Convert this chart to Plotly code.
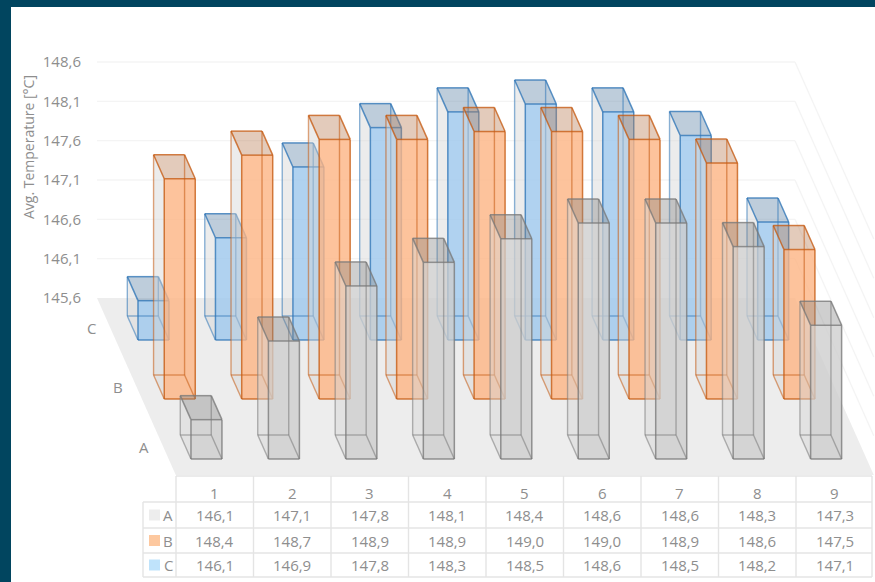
import plotly.graph_objects as go

# Average temperature per position (1-9) for each of the three series
positions = ["1", "2", "3", "4", "5", "6", "7", "8", "9"]
series_a = [146.1, 147.1, 147.8, 148.1, 148.4, 148.6, 148.6, 148.3, 147.3]
series_b = [148.4, 148.7, 148.9, 148.9, 149.0, 149.0, 148.9, 148.6, 147.5]
series_c = [146.1, 146.9, 147.8, 148.3, 148.5, 148.6, 148.5, 148.2, 147.1]
axis_ticks = [145.6, 146.1, 146.6, 147.1, 147.6, 148.1, 148.6]

W, H = 875, 582
BASE = 145.6
PX_PER_DEG = (298 - 62) / 3.0       # vertical scale of the value axis
SHEAR = 0.445                       # sideways drift per pixel of depth
WALL_X0, WALL_X1 = 97, 795
SLOT0_X, SLOT_PITCH, BAR_W = 119.3, 77.46, 31
FLOOR_DEPTH = 177
TEXT = "#8e8e8e"
FONT = "Open Sans"
GRID = "#f4f4f4"
TABLE_LINE = "#e4e4e4"

# depth of each series' back face, drawn rear to front
SERIES = [
    dict(name="C", values=series_c, depth=18, front="rgba(156,199,236,0.80)",
         top="rgba(100,135,170,0.42)", edge="46,117,182", key="#bfe3fb"),
    dict(name="B", values=series_b, depth=77, front="rgba(252,180,131,0.80)",
         top="rgba(185,125,85,0.40)", edge="197,90,17", key="#fdc89f"),
    dict(name="A", values=series_a, depth=137, front="rgba(205,205,205,0.78)",
         top="rgba(135,135,135,0.40)", edge="120,120,120", key="#ededed"),
]
BAR_DEPTH = 24


def deg(depth):
    """Depth in front of the back wall, expressed on the value axis."""
    return depth / PX_PER_DEG


def pt(x_back, depth, value):
    return x_back + depth * SHEAR, value - deg(depth)


def py(px):
    return 1 - px / H


fig = go.Figure()


def poly(points, color):
    fig.add_trace(go.Scatter(
        x=[p[0] for p in points] + [points[0][0]],
        y=[p[1] for p in points] + [points[0][1]],
        mode="none", fill="toself", fillcolor=color,
        hoverinfo="skip", showlegend=False))


def edges(segments, color, width):
    xs, ys = [], []
    for a, b in segments:
        xs += [a[0], b[0], None]
        ys += [a[1], b[1], None]
    fig.add_trace(go.Scatter(
        x=xs, y=ys, mode="lines", line=dict(color=color, width=width),
        hoverinfo="skip", showlegend=False))


# floor
poly([pt(WALL_X0, 0, BASE), pt(WALL_X1, 0, BASE),
      pt(WALL_X1, FLOOR_DEPTH, BASE), pt(WALL_X0, FLOOR_DEPTH, BASE)], "#ededed")

# wall gridlines: along the back, then down the side wall
for t in axis_ticks[1:]:
    edges([(pt(WALL_X0, 0, t), pt(WALL_X1, 0, t)),
           (pt(WALL_X1, 0, t), pt(WALL_X1, FLOOR_DEPTH, t))], GRID, 1.3)

# bars
for s in SERIES:
    d0, d1 = s["depth"], s["depth"] + BAR_DEPTH
    strong = f"rgba({s['edge']},0.78)"
    light = f"rgba({s['edge']},0.55)"
    for i, v in enumerate(s["values"]):
        x0 = SLOT0_X + SLOT_PITCH * i
        x1 = x0 + BAR_W
        bbl, bbr = pt(x0, d0, BASE), pt(x1, d0, BASE)
        btl, btr = pt(x0, d0, v), pt(x1, d0, v)
        fbl, fbr = pt(x0, d1, BASE), pt(x1, d1, BASE)
        ftl, ftr = pt(x0, d1, v), pt(x1, d1, v)
        poly([btl, ftl, fbl, bbl], "rgba(212,212,212,0.45)")
        poly([ftl, ftr, fbr, fbl], s["front"])
        poly([btl, btr, ftr, ftl], s["top"])
        edges([(btl, bbl), (btr, bbr), (bbl, bbr), (bbl, fbl), (bbr, fbr)], light, 1.4)
        edges([(ftl, ftr), (ftr, fbr), (fbr, fbl), (fbl, ftl),
               (btl, btr), (btl, ftl), (btr, ftr)], strong, 1.5)

# page band along the top and left edges
shapes = [
    dict(type="rect", xref="paper", yref="paper", x0=0, x1=1, y0=py(7), y1=1,
         fillcolor="#01455f", line_width=0),
    dict(type="rect", xref="paper", yref="paper", x0=0, x1=11 / W, y0=0, y1=1,
         fillcolor="#01455f", line_width=0),
]


def table_line(x0, y0, x1, y1):
    shapes.append(dict(type="line", xref="x", yref="paper", x0=x0, x1=x1,
                       y0=py(y0), y1=py(y1), line=dict(color=TABLE_LINE, width=1.4)))


# data table under the floor
COL0, COL_W = 176, 77.5
COLS_END = COL0 + COL_W * len(positions) - 1.5
KEY_X = 143
ROW_TOP = [476, 502, 528, 553, 577]
ROW_MID = [493, 515, 540.5, 565]
table_line(COL0, ROW_TOP[0], COLS_END, ROW_TOP[0])
for y in ROW_TOP[1:]:
    table_line(KEY_X, y, COLS_END, y)
table_line(KEY_X, ROW_TOP[1], KEY_X, ROW_TOP[-1])
for c in range(len(positions) + 1):
    x = min(COL0 + COL_W * c, COLS_END)
    table_line(x, ROW_TOP[0], x, ROW_TOP[-1])

annotations = []


def label(x, y_px, text, size=15, **kw):
    annotations.append(dict(x=x, y=py(y_px), xref="x", yref="paper", text=text,
                            showarrow=False, font=dict(family=FONT, size=size, color=TEXT),
                            xanchor="center", yanchor="middle", **kw))


for c, name in enumerate(positions):
    label(COL0 + COL_W * (c + 0.5), ROW_MID[0], name)

for r, s in enumerate(reversed(SERIES)):
    y = ROW_MID[r + 1]
    shapes.append(dict(type="rect", xref="x", yref="paper", x0=149, x1=160,
                       y0=py(y - 5.5), y1=py(y + 5.5), fillcolor=s["key"], line_width=0))
    label(168, y, s["name"])
    for c, v in enumerate(s["values"]):
        label(COL0 + COL_W * (c + 0.5), y, f"{v:.1f}".replace(".", ","))
    # depth-axis caption beside the floor
    mid = s["depth"] + BAR_DEPTH / 2
    label(78 + mid * SHEAR, 298 + mid, s["name"])

label(28, 147, "Avg. Temperature [°C]", size=14, textangle=-90)

fig.update_layout(
    width=W, height=H, margin=dict(l=0, r=0, t=0, b=0),
    paper_bgcolor="white", plot_bgcolor="white",
    separators=", ",
    shapes=shapes, annotations=annotations, showlegend=False,
    xaxis=dict(range=[0, W], visible=False, fixedrange=True),
    yaxis=dict(
        range=[BASE - (H - 298) / PX_PER_DEG, BASE + 298 / PX_PER_DEG],
        anchor="free", position=81 / W, side="left",
        tickmode="array", tickvals=axis_ticks, tickformat=".1f",
        showgrid=False, zeroline=False, showline=False, ticks="",
        tickfont=dict(family=FONT, size=15, color=TEXT),
        fixedrange=True),
)

fig.write_html("out.html", config=dict(displayModeBar=False))
